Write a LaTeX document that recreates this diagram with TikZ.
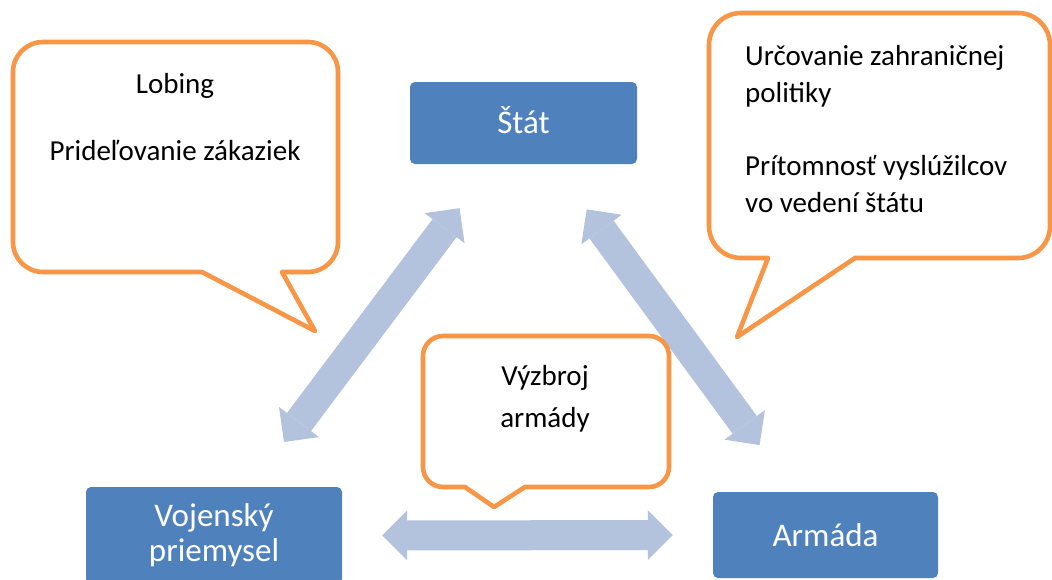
\documentclass[tikz,border=0pt]{standalone}
\usepackage{fontspec}
\setmainfont{Carlito}
\usetikzlibrary{arrows.meta}
\definecolor{boxblue}{HTML}{4F81BD}
\definecolor{arrblue}{HTML}{B3C2DD}
\definecolor{bubbleorange}{HTML}{F79646}
\begin{document}
\begin{tikzpicture}[x=1pt,y=-1pt,
  bluebox/.style={fill=boxblue, rounded corners=5pt, text=white, inner sep=0pt,
    font=\fontsize{33}{35}\selectfont, align=center},
  bubble/.style={draw=bubbleorange, fill=white, line width=4.6pt, line join=round},
  ctext/.style={inner sep=0pt, font=\fontsize{29}{36}\selectfont, text=black},
  dblarrow/.style={draw=arrblue, line width=30pt,
    {Triangle[length=25pt,width=50pt,line width=0pt]}-{Triangle[length=25pt,width=50pt,line width=0pt]}}
]
\useasboundingbox (0,0) rectangle (1052,579);
\clip (0,0) rectangle (1052,579);
\fill[white] (0,0) rectangle (1052,579);

% blue boxes
\node[bluebox, minimum width=227pt, minimum height=82pt, text height=23pt, text depth=3pt] (stat) at (523.5,123) {Štát};
\node[bluebox, minimum width=256pt, minimum height=97pt] (vp) at (214,535.5) {Vojenský\\priemysel};
\node[bluebox, minimum width=225pt, minimum height=86pt, text height=23pt, text depth=1pt] (arm) at (825.5,535) {Armáda};

% double arrows
\draw[dblarrow, shorten <=55pt, shorten >=56pt] (stat) -- (vp);
\draw[dblarrow, shorten <=56pt, shorten >=58pt] (stat) -- (arm);
\draw[dblarrow, shorten <=40pt, shorten >=40pt] (vp) -- (arm);

% left callout
\draw[bubble] (202,272) -- (315,331) -- (282,272) -- (308,272)
  arc[start angle=90,end angle=0,radius=30] -- (338,72)
  arc[start angle=0,end angle=-90,radius=30] -- (43,42)
  arc[start angle=-90,end angle=-180,radius=30] -- (13,242)
  arc[start angle=180,end angle=90,radius=30] -- cycle;
% right callout
\draw[bubble] (768,258) -- (737,337) -- (855,258) -- (1018,258)
  arc[start angle=90,end angle=0,radius=32] -- (1050,45)
  arc[start angle=0,end angle=-90,radius=32] -- (741,13)
  arc[start angle=-90,end angle=-180,radius=32] -- (709,226)
  arc[start angle=180,end angle=90,radius=32] -- cycle;
% middle callout
\draw[bubble] (465,487) -- (494,507) -- (525,487) -- (649,487)
  arc[start angle=90,end angle=0,radius=20] -- (669,356)
  arc[start angle=0,end angle=-90,radius=20] -- (443,336)
  arc[start angle=-90,end angle=-180,radius=20] -- (423,467)
  arc[start angle=180,end angle=90,radius=20] -- cycle;

% callout texts
\node[ctext, anchor=base] (lobing) at (175,93) {Lobing};
\node[ctext, anchor=base] (pridel) at (175,160) {Prideľovanie zákaziek};
\node[ctext, anchor=base west] (urc1) at (745,65) {Určovanie zahraničnej};
\node[ctext, anchor=base west] (urc2) at (745,102) {politiky};
\node[ctext, anchor=base west] (prit1) at (745,175) {Prítomnosť vyslúžilcov};
\node[ctext, anchor=base west] (prit2) at (745,212) {vo vedení štátu};
\node[ctext, anchor=base] (vyz1) at (545,385) {Výzbroj};
\node[ctext, anchor=base] (vyz2) at (545,427) {armády};
\end{tikzpicture}
\end{document}
